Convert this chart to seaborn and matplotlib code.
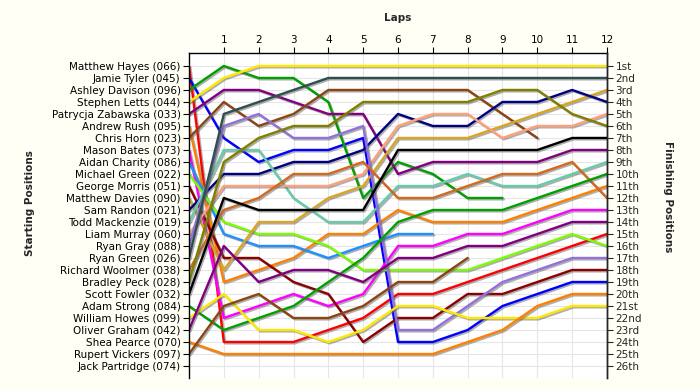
import numpy as np
import pandas as pd
import matplotlib
matplotlib.use("Agg")
import matplotlib.pyplot as plt
import matplotlib.patheffects as pe
import seaborn as sns

# ─── Data ────────────────────────────────────────────────────────────────────
LAPS = list(range(13))

RIDERS = [
    "Matthew Hayes (066)", "Jamie Tyler (045)", "Ashley Davison (096)",
    "Stephen Letts (044)", "Patrycja Zabawska (033)", "Andrew Rush (095)",
    "Chris Horn (023)", "Mason Bates (073)", "Aidan Charity (086)",
    "Michael Green (022)", "George Morris (051)", "Matthew Davies (090)",
    "Sam Randon (021)", "Todd Mackenzie (019)", "Liam Murray (060)",
    "Ryan Gray (088)", "Ryan Green (026)", "Richard Woolmer (038)",
    "Bradley Peck (028)", "Scott Fowler (032)", "Adam Strong (084)",
    "William Howes (099)", "Oliver Graham (042)", "Shea Pearce (070)",
    "Rupert Vickers (097)", "Jack Partridge (074)",
]

FINISH_LABELS = [
    "1st", "2nd", "3rd", "4th", "5th", "6th", "7th", "8th", "9th", "10th",
    "11th", "12th", "13th", "14th", "15th", "16th", "17th", "18th", "19th",
    "20th", "21st", "22nd", "23rd", "24th", "25th", "26th",
]

# running position per lap (lap 0 = grid), None once a rider has retired
HAYES     = [1, 24, 24, 24, 23, 22, 20, 20, 19, 18, 17, 16, 15]
TYLER     = [2, 7, 9, 8, 8, 7, 24, 24, 23, 21, 20, 19, 19]
DAVISON   = [3, 1, 2, 2, 4, 12, 9, 10, 12, 12, None, None, None]
LETTS     = [4, 2, 1, 1, 1, 1, 1, 1, 1, 1, 1, 1, 1]
ZABAWSKA  = [5, 3, 3, 4, 5, 5, 10, 9, 9, 9, 9, 8, 8]
RUSH      = [6, 19, 18, 17, 15, 15, 13, 14, 14, 14, 13, 12, 11]
HORN      = [7, 4, 6, 5, 3, 3, 3, 3, 3, 5, 7, None, None]
BATES     = [8, 22, 21, 20, 21, 20, 16, 16, 15, 15, 14, 13, 13]
CHARITY   = [9, 15, 16, 16, 17, 16, 15, 15, None, None, None, None, None]
M_GREEN   = [10, 14, 15, 15, 16, 18, 18, 18, 18, 17, 16, 15, 16]
MORRIS    = [11, 17, 17, 19, 20, 24, 22, 22, 20, 20, 19, 18, 18]
DAVIES    = [12, 18, 14, 14, 12, 11, 7, 7, 7, 6, 5, 4, 3]
RANDON    = [13, 10, 10, 9, 9, 8, 5, 6, 6, 4, 4, 3, 4]
MACKENZIE = [14, 8, 8, 12, 14, 14, 11, 11, 10, 11, 11, 10, 9]
MURRAY    = [15, 11, 11, 11, 11, 10, 6, 5, 5, 7, 6, 6, 5]
GRAY      = [16, 6, 5, 7, 7, 6, 23, 23, 21, 19, 18, 17, 17]
R_GREEN   = [17, 5, 4, 3, 2, 2, 2, 2, 2, 2, 2, 2, 2]
WOOLMER   = [18, 13, 12, 10, 10, 9, 12, 12, 11, 10, 10, 9, 12]
PECK      = [19, 9, 7, 6, 6, 4, 4, 4, 4, 3, 3, 5, 6]
FOWLER    = [20, 12, 13, 13, 13, 13, 8, 8, 8, 8, 8, 7, 7]
STRONG    = [21, 23, 22, 21, 19, 17, 14, 13, 13, 13, 12, 11, 10]
HOWES     = [22, 20, 23, 23, 24, 23, 21, 21, 22, 22, 22, 21, 21]
GRAHAM    = [23, 16, 19, 18, 18, 19, 17, 17, 16, 16, 15, 14, 14]
PEARCE    = [24, 25, 25, 25, 25, 25, 25, 25, 24, 23, 21, 20, 20]
VICKERS   = [25, 21, 20, 22, 22, 21, 19, 19, 17, None, None, None, None]
PARTRIDGE = [None] * 13

RACE = [HAYES, TYLER, DAVISON, LETTS, ZABAWSKA, RUSH, HORN, BATES, CHARITY,
        M_GREEN, MORRIS, DAVIES, RANDON, MACKENZIE, MURRAY, GRAY, R_GREEN,
        WOOLMER, PECK, FOWLER, STRONG, HOWES, GRAHAM, PEARCE, VICKERS,
        PARTRIDGE]

COLOURS = [
    "#FF0000", "#0000FF", "#00A000", "#FFE800", "#800080", "#FF8000",
    "#8B4513", "#FF00FF", "#1E90FF", "#7CFC00", "#8B0000", "#DAA520",
    "#000080", "#66CDAA", "#FFA07A", "#9370DB", "#2F4F4F", "#D2691E",
    "#808000", "#000000", "#00A000", "#FFE800", "#800080", "#FF8000",
    "#8B4513", "#808080",
]

# ─── Long table ──────────────────────────────────────────────────────────────
rows = []
for name, pos in zip(RIDERS, RACE):
    for lap, p in zip(LAPS, pos):
        if p is not None:
            rows.append({"rider": name, "lap": lap, "pos": p})
df = pd.DataFrame(rows)
palette = dict(zip(RIDERS, COLOURS))

# ─── Plot ────────────────────────────────────────────────────────────────────
sns.set_style("white")
plt.rcParams["font.family"] = ["DejaVu Sans"]
BG = "#FFFFF6"

fig = plt.figure(figsize=(7, 3.9), dpi=100, facecolor=BG)
ax = fig.add_axes([189 / 700, 12 / 390, 418 / 700, 325 / 390])
ax.set_facecolor("white")

sns.lineplot(data=df, x="lap", y="pos", hue="rider", palette=palette,
             estimator=None, sort=False, linewidth=1.7, legend=False, ax=ax)
for ln in ax.lines:
    ln.set_path_effects([
        pe.SimpleLineShadow(offset=(1.0, -1.0), shadow_color="#606060", alpha=0.5),
        pe.Normal(),
    ])

ax.set_xlim(0, 12)
ax.set_ylim(27, -0.08)
ax.set_xticks(range(1, 13))
ax.set_yticks(range(1, 27))
ax.set_yticklabels(RIDERS)
ax.xaxis.tick_top()
ax.xaxis.set_label_position("top")
ax.set_xlabel("Laps", fontsize=7.5, fontweight="bold", labelpad=10)
ax.set_ylabel("")
ax.tick_params(axis="both", direction="out", length=4, width=0.8,
               labelsize=7.5, colors="black", pad=2)
ax.grid(True, color="#E6E6E6", linewidth=0.8)
ax.set_axisbelow(True)
for side in ("top", "left", "right"):
    ax.spines[side].set_color("black")
    ax.spines[side].set_linewidth(1.0)
ax.spines["bottom"].set_visible(False)

ax2 = ax.twinx()
ax2.set_ylim(ax.get_ylim())
ax2.set_yticks(range(1, 27))
ax2.set_yticklabels(FINISH_LABELS)
ax2.tick_params(axis="y", direction="out", length=4, width=0.8,
                labelsize=7.5, pad=2)
for side in ("top", "bottom", "left"):
    ax2.spines[side].set_visible(False)
ax2.spines["right"].set_linewidth(1.0)

fig.text(30 / 700, 1 - 203 / 390, "Starting Positions", rotation=90,
         ha="center", va="center", fontsize=7.5, fontweight="bold")
fig.text(668 / 700, 1 - 197 / 390, "Finishing Positions", rotation=-90,
         ha="center", va="center", fontsize=7.5, fontweight="bold")

fig.savefig("out.png", dpi=100, facecolor=BG)
